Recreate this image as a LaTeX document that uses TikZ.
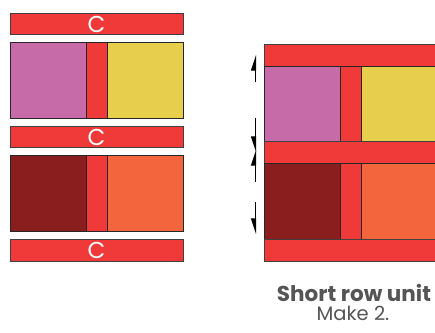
\documentclass[tikz,border=0pt]{standalone}
\usepackage{fontspec}
\setmainfont{Poppins}
\usetikzlibrary{arrows.meta}
\definecolor{cred}{HTML}{EF3A39}
\definecolor{cpink}{HTML}{C66AA8}
\definecolor{cyellow}{HTML}{E7CF4D}
\definecolor{cdark}{HTML}{8A1D1D}
\definecolor{corange}{HTML}{F2653D}
\definecolor{ctext}{HTML}{555555}
\tikzset{
  patch/.style={draw=black!85,line width=0.8pt},
  strip/.style={patch,fill=cred,draw=black!75},
  clabel/.style={text=white,font=\fontsize{23}{23}\selectfont,inner sep=0pt},
  harp/.style={line width=1pt,-{Stealth[harpoon,length=14pt,width=9pt,inset=0pt]}},
  harpsw/.style={line width=1pt,-{Stealth[harpoon,swap,length=14pt,width=9pt,inset=0pt]}},
  caption/.style={text=ctext,anchor=base,inner sep=0pt},
}
\begin{document}
\begin{tikzpicture}[x=1pt,y=-1pt]
\useasboundingbox (0,0) rectangle (435,332);
% left column
\draw[strip] (10,13) rectangle (183,34) node[clabel,midway,yshift=-0.5pt] (c1) {C};
\draw[patch,fill=cpink] (10,42) rectangle (86,118);
\draw[patch,fill=cred] (86,42) rectangle (107,118);
\draw[patch,fill=cyellow] (107,42) rectangle (183,118);
\draw[strip] (10,126) rectangle (183,147) node[clabel,midway,yshift=-0.5pt] (c2) {C};
\draw[patch,fill=cdark] (10,155) rectangle (86,231);
\draw[patch,fill=cred] (86,155) rectangle (107,231);
\draw[patch,fill=corange] (107,155) rectangle (183,231);
\draw[strip] (10,239) rectangle (183,261) node[clabel,midway,yshift=-0.5pt] (c3) {C};
% right assembly
\begin{scope}
\clip (0,0) rectangle (435,332);
\draw[strip] (264,44.5) rectangle (440,66);
\draw[patch,fill=cpink] (264,66) rectangle (340,141.5);
\draw[patch,fill=cred] (340,66) rectangle (361,141.5);
\draw[patch,fill=cyellow] (361,66) rectangle (440,141.5);
\draw[strip] (264,141.5) rectangle (440,163.5);
\draw[patch,fill=cdark] (264,163.5) rectangle (340,239.5);
\draw[patch,fill=cred] (340,163.5) rectangle (361,239.5);
\draw[patch,fill=corange] (361,163.5) rectangle (440,239.5);
\draw[strip] (264,239.5) rectangle (440,261);
\end{scope}
% pressing arrows
\coordinate (a1s) at (255.5,82); \coordinate (a1e) at (255.5,55);
\coordinate (a2s) at (255.5,118); \coordinate (a2e) at (255.5,152);
\coordinate (a3s) at (255.5,182); \coordinate (a3e) at (255.5,150);
\coordinate (a4s) at (255.5,202); \coordinate (a4e) at (255.5,234);
\draw[harp] (a1s) -- (a1e);
\draw[harpsw] (a2s) -- (a2e);
\draw[harp] (a3s) -- (a3e);
\draw[harpsw] (a4s) -- (a4e);
% caption
\node[caption,font=\fontsize{21.5}{21.5}\selectfont\bfseries] (t1) at (354,301) {Short row unit};
\node[caption,font=\fontsize{19.5}{19.5}\selectfont] (t2) at (353,320.5) {Make 2.};
\end{tikzpicture}
\end{document}
